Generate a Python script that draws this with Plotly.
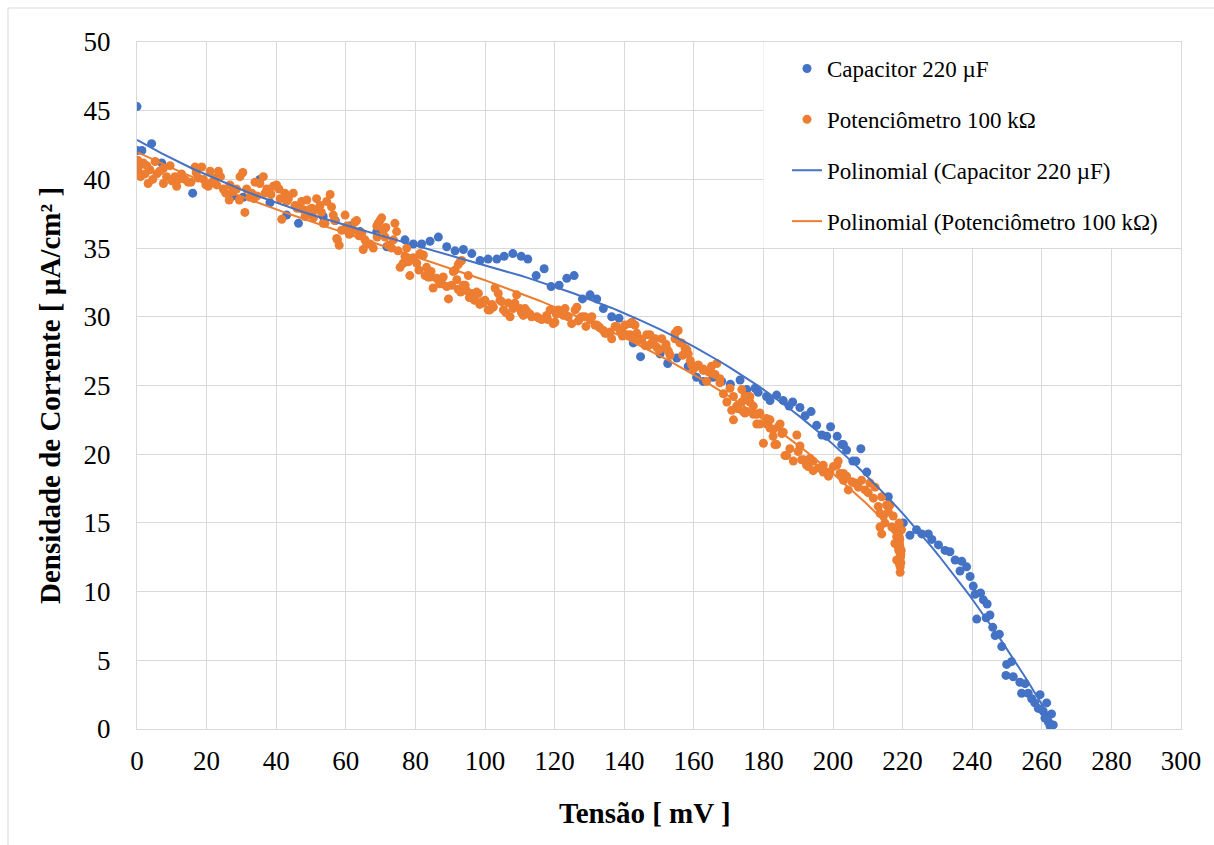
import numpy as np
import plotly.graph_objects as go

# Capacitor 220 µF discharge: voltage (mV) vs current density (µA/cm²)
cap_x = [0.0, 0.0, 1.4, 4.2, 7.1, 16.0, 27.6, 30.5, 35.3, 38.2, 43.0, 46.4, 50.0, 53.5,
         57.0, 61.0, 64.1, 68.9,
         71.8, 77.0, 79.4, 81.8, 84.2, 86.6, 89.0, 91.4, 93.8, 96.2, 98.6, 100.9, 103.4,
         105.5, 108.0, 110.4, 112.3, 114.7, 117.0, 119.0, 121.3, 123.5, 125.6, 128.0,
         130.2, 132.1, 134.0, 136.4, 138.5, 142.6, 144.7, 150.3, 152.5, 155.1, 158.4,
         160.8, 162.7, 165.5, 168.0, 170.5, 173.3, 175.2, 177.6, 178.5, 180.9, 181.9, 183.8, 185.7, 187.4,
         188.4, 190.5, 192.0, 193.7, 195.3, 196.8, 198.2, 199.3, 201.2, 202.5, 203.0,
         203.9, 205.7, 206.6, 208.0, 209.7, 215.9, 220.2, 222.1, 224.0, 225.5, 227.4,
         228.4, 230.3, 232.2, 233.6, 235.1, 237.0, 238.4, 236.5, 239.4, 240.3, 240.8,
         242.4, 243.2, 244.3, 241.3, 244.0, 245.1, 245.9, 246.6, 247.8, 248.5, 249.9,
         251.3, 249.7, 251.8, 253.7, 255.2, 254.2, 256.1, 257.1, 258.0, 259.5, 261.4,
         259.0, 260.4, 262.8, 261.9, 263.3, 262.4, 260.9]
cap_y = [45.3, 42.1, 42.1, 42.6, 41.2, 39.0, 38.8, 38.7, 40.0, 38.3, 37.4, 36.8, 37.6, 37.3,
         37.0, 36.6, 36.2, 36.2,
         35.1, 35.6, 35.3, 35.3, 35.5, 35.8, 35.1, 34.8, 34.9, 34.6, 34.1, 34.2, 34.2,
         34.4, 34.6, 34.4, 34.2, 33.0, 33.5, 32.2, 32.3, 32.8, 33.0, 31.3,
         31.6, 31.3, 30.6, 30.0, 29.9, 28.1, 27.1, 27.3, 26.6, 27.0, 26.4,
         25.6, 25.3, 25.6, 25.3, 25.1, 25.4, 24.7, 24.8, 24.5, 24.2, 23.9, 24.3, 23.9, 23.5,
         23.8, 23.4, 22.8, 23.1, 22.1, 21.4, 21.3, 22.0, 21.3, 20.7, 20.7,
         20.3, 19.5, 19.5, 20.4, 18.7, 16.9, 15.0, 14.1, 14.5, 14.2, 14.2,
         13.8, 13.4, 13.0, 12.9, 12.3, 12.2, 11.8, 11.5, 11.1, 10.4, 9.8,
         9.9, 9.4, 9.1, 8.0, 8.1, 8.3, 7.4, 6.8, 6.9, 6.0, 4.7,
         4.9, 3.9, 3.8, 3.4, 3.3, 2.6, 2.6, 2.2, 1.9, 2.5, 1.9,
         1.5, 1.3, 1.1, 0.5, 0.3, 0.2, 0.8]

# Potenciômetro 100 kΩ: voltage (mV) vs current density (µA/cm²)
pot_x = [0.2, 0.3, 0.4, 1.8, 2.3, 3.2, 3.7, 5.2, 5.7, 7.6, 7.6, 9.5, 10.9, 11.4, 12.8,
         13.8, 14.7, 16.7, 18.6, 17.6, 19.1, 20.5, 21.0, 22.4, 23.4, 22.9, 24.8, 26.5,
         26.7, 28.6, 29.6, 30.4, 29.4, 31.0, 32.5, 33.9, 33.6, 35.3, 36.3, 37.3, 39.2,
         40.1, 41.1, 41.6, 42.5, 43.0, 44.9, 45.4, 46.8, 48.3, 48.8, 50.2, 50.7, 51.6,
         52.6, 53.5, 54.5, 55.5, 55.9, 56.4, 57.6, 58.1, 59.8, 60.3, 61.7, 62.6, 64.6,
         65.0, 65.5, 67.0, 67.9, 68.9, 69.8, 70.8, 72.2, 73.7, 74.1, 74.6, 75.6, 76.5,
         78.4, 79.4, 80.4, 82.3, 82.8, 84.2, 85.1, 86.6, 88.0, 89.5, 90.4, 91.4, 92.3,
         47.8, 54.0, 57.4, 59.8, 62.2, 63.1, 69.3, 70.3, 71.3, 73.2, 77.5, 81.3, 83.2,
         83.7, 86.1, 87.6, 91.9, 92.8, 93.8, 94.7, 96.2, 96.6, 98.1, 99.5, 100.9, 102.4,
         104.3, 105.3, 107.2, 108.6, 110.1, 111.0, 112.9, 114.9, 116.3, 117.7, 119.6,
         121.1, 122.5, 124.9, 126.4, 127.8, 130.2, 131.6,
         90.9, 92.3, 93.3, 94.3, 95.2, 97.6, 99.1, 101.4, 102.9, 103.8, 104.8, 106.7,
         108.1, 109.1, 110.5, 112.0, 113.4, 118.7, 120.1, 123.0, 123.9, 125.9, 127.3,
         128.7, 130.7, 132.6, 134.5, 136.4, 137.4, 138.8, 140.2, 141.7, 142.2, 143.6,
         144.5, 146.5, 147.9, 149.3, 150.8, 152.2, 153.2, 154.6, 155.3, 156.0, 157.5,
         158.4, 159.4, 160.8, 162.7, 164.2, 165.1, 166.1, 167.5, 168.5, 169.5, 170.4,
         171.4, 172.3, 173.8, 174.7, 176.1, 177.1, 178.1,
         132.1, 134.0, 135.0, 137.8, 139.3, 140.7, 141.7, 143.1, 144.1, 146.0, 147.4,
         148.9, 151.7, 152.7, 154.6, 155.5, 156.5, 158.0, 159.9, 161.3, 162.7, 163.7,
         165.1, 166.6, 167.5, 170.9, 171.4, 172.8, 174.2, 175.7, 179.0, 180.9, 181.9,
         180.0, 182.8, 183.8, 184.8, 185.7, 186.7, 187.6, 189.6, 190.5, 191.5, 192.9,
         194.3, 195.8, 197.2, 199.1, 201.1, 203.0,
         173.8, 174.7, 175.2, 176.1, 177.1, 178.1, 179.0, 181.0, 181.9, 182.8, 183.3,
         184.3, 185.3, 186.2, 188.6, 190.0, 191.0, 192.4, 193.4, 194.3, 197.2, 198.7,
         200.1, 201.5, 202.0, 203.0, 203.9, 204.4, 205.4, 206.3, 207.3, 208.2, 209.2,
         210.1, 210.6, 211.6, 212.1, 213.0, 213.5, 214.0, 214.5, 214.9, 215.4, 215.9,
         216.4, 216.9, 217.3, 217.8, 218.3, 218.8, 219.1, 219.3, 219.5, 219.3, 218.3,
         214.0, 213.5, 218.8, 219.7, 219.2, 217.8,
         219.0, 219.2, 219.4, 219.1, 218.6, 219.6, 219.0, 218.9, 219.3, 219.5,
         0.5, 1.0, 2.8, 4.5, 6.5, 8.5, 10.0, 12.0, 15.5, 17.0, 19.8, 21.5, 24.0, 25.5,
         27.5, 31.5, 33.0, 34.5, 36.8, 38.5, 40.8, 43.5, 46.0, 47.3, 49.5, 51.2, 53.0,
         56.8, 58.8, 61.0, 63.8, 66.0, 69.0, 71.5, 75.0, 77.0, 78.0, 81.0, 84.5, 87.0,
         89.0, 93.0, 95.5, 97.0, 98.5, 100.0, 102.0, 106.0, 111.5, 115.5, 118.0, 120.5,
         126.8, 129.0, 133.0, 136.0, 139.5, 142.8, 145.0, 147.0, 150.0, 152.0, 156.8,
         159.0]
pot_y = [41.4, 40.6, 40.9, 41.2, 40.4, 39.7, 40.7, 41.3, 40.4, 39.7, 40.8, 41.0, 40.2, 39.5, 40.4,
         40.0, 39.8, 40.9, 40.9, 40.1, 40.0, 39.5, 40.6, 40.1, 40.6, 39.6, 39.3, 38.5,
         39.6, 39.3, 40.2, 40.5, 38.5, 37.6, 38.7, 39.8, 38.6, 39.7, 40.2, 39.3, 39.5,
         39.6, 38.6, 37.1, 39.0, 38.4, 39.0, 38.1, 37.9, 37.3, 38.5, 37.9, 37.2, 38.6,
         38.1, 36.8, 38.4, 38.9, 38.0, 37.4, 35.6, 35.2, 37.4, 36.6, 36.3, 36.9, 36.1,
         34.9, 35.6, 35.3, 35.0, 36.6, 37.0, 36.3, 35.2, 35.6, 36.8, 36.2, 33.6, 33.9,
         33.0, 34.3, 33.9, 34.5, 33.0, 32.9, 32.1, 32.7, 32.9, 31.3, 32.3, 33.4, 32.0,
         37.8, 36.8, 35.7, 36.4, 36.3, 37.0, 36.8, 37.2, 35.8, 35.0, 35.0, 34.6, 33.6,
         32.9, 32.8, 32.4, 32.7, 34.0, 32.3, 31.9, 31.7, 31.3, 31.7, 31.0, 30.5, 30.7,
         31.2, 30.5, 30.0, 31.0, 30.6, 30.1, 30.2, 30.0, 29.8, 30.1, 29.5,
         30.5, 30.1, 29.5, 30.7, 30.0, 29.8, 29.4,
         33.3, 33.8, 34.1, 32.3, 33.0, 31.8, 31.1, 30.5, 32.1, 31.7, 31.1, 31.0,
         30.6, 31.6, 30.3, 30.4, 30.0, 30.5, 29.6, 30.6, 30.0, 30.5, 29.9,
         30.0, 30.0, 29.3, 28.8, 28.4, 29.3, 29.0, 29.4, 28.7, 29.6, 28.8,
         28.4, 28.7, 28.1, 27.8, 28.4, 27.7, 27.2, 28.4, 29.0, 28.1, 27.7,
         27.3, 26.5, 26.4, 26.2, 26.0, 26.4, 25.8, 25.2, 24.4, 23.8, 24.8,
         24.2, 23.5, 23.8, 23.0, 24.2, 23.5, 22.9,
         29.4, 29.0, 28.8, 29.3, 29.0, 28.7, 29.5, 29.4, 28.3, 27.9, 28.7,
         28.4, 27.7, 27.5, 28.8, 29.0, 28.1, 27.6, 26.2, 26.5, 26.1, 25.3,
         25.9, 26.6, 25.5, 23.2, 22.5, 23.3, 23.1, 24.2, 22.2, 22.6, 21.9,
         20.8, 21.3, 20.7, 22.2, 21.6, 19.9, 20.4, 21.4, 20.6, 19.6, 19.1,
         19.5, 19.0, 19.2, 18.7, 19.2, 18.6,
         24.7, 24.2, 23.1, 23.8, 22.9, 22.2, 23.0, 22.2, 22.5, 21.8, 20.7,
         22.0, 21.5, 19.9, 19.5, 20.2, 19.6, 19.2, 19.7, 18.8, 18.7, 18.4,
         19.1, 19.5, 18.6, 18.1, 18.4, 17.4, 18.0, 17.9, 17.6, 18.1, 17.4,
         17.2, 17.9, 16.8, 17.6, 16.2, 15.7, 16.9, 15.5, 15.0, 16.3, 15.8,
         16.3, 14.7, 15.5, 14.5, 14.0, 14.7, 13.5, 12.8, 12.1, 11.4, 12.3,
         14.2, 14.7, 13.2, 14.5, 13.3, 13.5,
         14.0, 13.8, 12.5, 12.0, 14.2, 13.0, 15.0, 13.0, 11.8, 12.7,
         41.0, 40.2, 41.0, 40.0, 40.6, 40.2, 39.9, 40.0, 39.8, 40.5, 39.6, 39.8, 40.2, 39.0,
         39.1, 39.3, 39.0, 38.8, 39.0, 38.9, 39.3, 38.6, 37.9, 38.4, 37.8, 37.8, 37.6,
         37.0, 36.3, 36.0, 35.9, 35.3, 35.8, 36.5, 34.8, 34.4, 34.0, 33.4, 33.3, 32.4,
         32.2, 31.8, 31.4, 31.2, 30.9, 31.2, 30.9, 30.3, 30.6, 29.9, 29.8, 30.2,
         29.7, 29.3, 29.2, 28.9, 28.6, 28.4, 28.3, 27.9, 27.6, 28.0, 27.2,
         26.8]

x_ticks = list(range(0, 301, 20))
y_ticks = list(range(0, 51, 5))

BLUE = "#4472C4"
ORANGE = "#ED7D31"
GRID = "#D9D9D9"
FONT = "Liberation Serif, Times New Roman, serif"


def poly_trend(x, y, deg=3):
    """Least-squares polynomial trendline evaluated over the data's x span."""
    x = np.asarray(x, float)
    y = np.asarray(y, float)
    coef = np.polyfit(x, y, deg)
    xs = np.unique(x)
    return xs, np.polyval(coef, xs)


cap_tx, cap_ty = poly_trend(cap_x, cap_y)
pot_tx, pot_ty = poly_trend(pot_x, pot_y)

fig = go.Figure()
fig.add_trace(go.Scatter(x=cap_x, y=cap_y, mode="markers", name="Capacitor 220 µF",
                         legendgroup="a",
                         marker=dict(color=BLUE, size=9, line=dict(width=0))))
fig.add_trace(go.Scatter(x=pot_x, y=pot_y, mode="markers", name="Potenciômetro 100 kΩ",
                         legendgroup="b",
                         marker=dict(color=ORANGE, size=9, line=dict(width=0))))
fig.add_trace(go.Scatter(x=cap_tx, y=cap_ty, mode="lines",
                         name="Polinomial (Capacitor 220 µF)", legendgroup="c",
                         line=dict(color=BLUE, width=2)))
fig.add_trace(go.Scatter(x=pot_tx, y=pot_ty, mode="lines",
                         name="Polinomial (Potenciômetro 100 kΩ)", legendgroup="d",
                         line=dict(color=ORANGE, width=2)))

W, H = 1214, 845
L, R, T, B = 137, 1181, 42, 729


def px(xp):
    return (xp - L) / (R - L)


def py(yp):
    return (B - yp) / (B - T)


fig.update_layout(
    width=W, height=H,
    margin=dict(l=L, r=W - R, t=T, b=H - B),
    paper_bgcolor="white", plot_bgcolor="white",
    font=dict(family=FONT, color="black"),
    showlegend=True,
    legend=dict(x=px(787), y=py(47), xanchor="left", yanchor="top",
                bgcolor="rgba(0,0,0,0)", font=dict(size=23, family=FONT),
                tracegroupgap=18, itemwidth=30),
    xaxis=dict(range=[0, 300], tickvals=x_ticks, showgrid=True, gridcolor=GRID,
               gridwidth=1, zeroline=False, showline=True, linecolor=GRID,
               mirror=True, ticks="", tickfont=dict(size=27, family=FONT),
               ticklabelstandoff=8),
    yaxis=dict(range=[0, 50], tickvals=y_ticks, showgrid=True, gridcolor=GRID,
               gridwidth=1, zeroline=False, showline=True, linecolor=GRID,
               mirror=True, ticks="", tickfont=dict(size=27, family=FONT),
               ticklabelstandoff=20),
    shapes=[
        # white panel behind the legend
        dict(type="rect", xref="x", yref="y", x0=180, x1=300, y0=35, y1=50,
             fillcolor="white", line=dict(width=0), layer="between"),
        # chart-area frame
        dict(type="rect", xref="paper", yref="paper", x0=px(8), x1=px(W + 20),
             y0=py(H + 20), y1=py(8), line=dict(color=GRID, width=1),
             fillcolor="rgba(0,0,0,0)", layer="below"),
    ],
    annotations=[
        dict(text="<b>Tensão [ mV ]</b>", xref="paper", yref="paper",
             x=px(645), y=py(813), xanchor="center", yanchor="middle",
             showarrow=False, font=dict(size=29, family=FONT)),
        dict(text="<b>Densidade de Corrente [ µA/cm² ]</b>", xref="paper", yref="paper",
             x=px(50), y=py(396), xanchor="center", yanchor="middle",
             showarrow=False, textangle=-90, font=dict(size=29, family=FONT)),
    ],
)

fig.write_html("out.html")
